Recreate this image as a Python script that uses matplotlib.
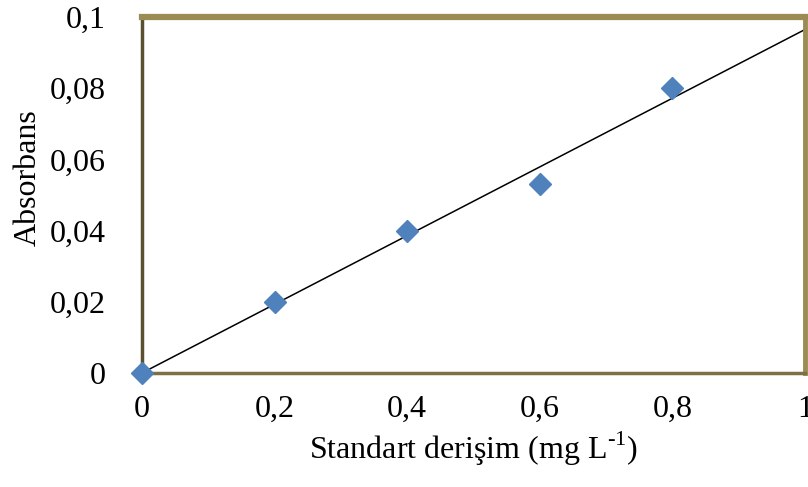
import matplotlib.pyplot as plt
import numpy as np
from matplotlib.ticker import FuncFormatter

# standard concentration (mg/L) vs absorbance
conc = [0.0, 0.2, 0.4, 0.6, 0.8]
absorb = [0.0, 0.020, 0.040, 0.053, 0.080]

x_ticks = [0, 0.2, 0.4, 0.6, 0.8, 1.0]
y_ticks = [0, 0.02, 0.04, 0.06, 0.08, 0.1]

plt.rcParams['font.family'] = ['Liberation Serif', 'DejaVu Serif']
plt.rcParams['mathtext.fontset'] = 'custom'
plt.rcParams['mathtext.rm'] = 'Liberation Serif'

fig = plt.figure(figsize=(8.08, 4.87), dpi=100)
ax = fig.add_axes([0.1757, 0.2341, 0.8206, 0.7309])

# linear trendline forced through origin
x = np.array(conc)
y = np.array(absorb)
slope = (x * y).sum() / (x * x).sum()
xf = np.array([0, 1.0])
ax.plot(xf, slope * xf, color='black', lw=1.1, zorder=2)

ax.plot(conc, absorb, linestyle='none', marker='D', markersize=11,
        color='#4f81bd', zorder=3, clip_on=False)

ax.set_xlim(0, 1)
ax.set_ylim(0, 0.1)
ax.set_xticks(x_ticks)
ax.set_yticks(y_ticks)

def comma(v, pos):
    s = ('%g' % round(v, 4)).replace('.', ',')
    return s

ax.xaxis.set_major_formatter(FuncFormatter(comma))
ax.yaxis.set_major_formatter(FuncFormatter(comma))
ax.tick_params(axis='both', length=0, labelsize=23)
ax.tick_params(axis='x', pad=16)
ax.tick_params(axis='y', pad=26)

olive = '#9b8c55'
ax.spines['top'].set_color(olive)
ax.spines['top'].set_linewidth(4.5)
ax.spines['right'].set_color(olive)
ax.spines['right'].set_linewidth(3.5)
ax.spines['left'].set_color('#5a5030')
ax.spines['left'].set_linewidth(2.5)
ax.spines['bottom'].set_color('#7d7045')
ax.spines['bottom'].set_linewidth(2.5)

ax.set_xlabel('Standart derişim (mg L$^{\\mathrm{\\text{-}1}}$)', fontsize=23, labelpad=4)
ax.set_ylabel('Absorbans', fontsize=23, labelpad=6)
ax.yaxis.set_label_coords(-0.15, 0.55)

fig.savefig('out.png', dpi=100)
